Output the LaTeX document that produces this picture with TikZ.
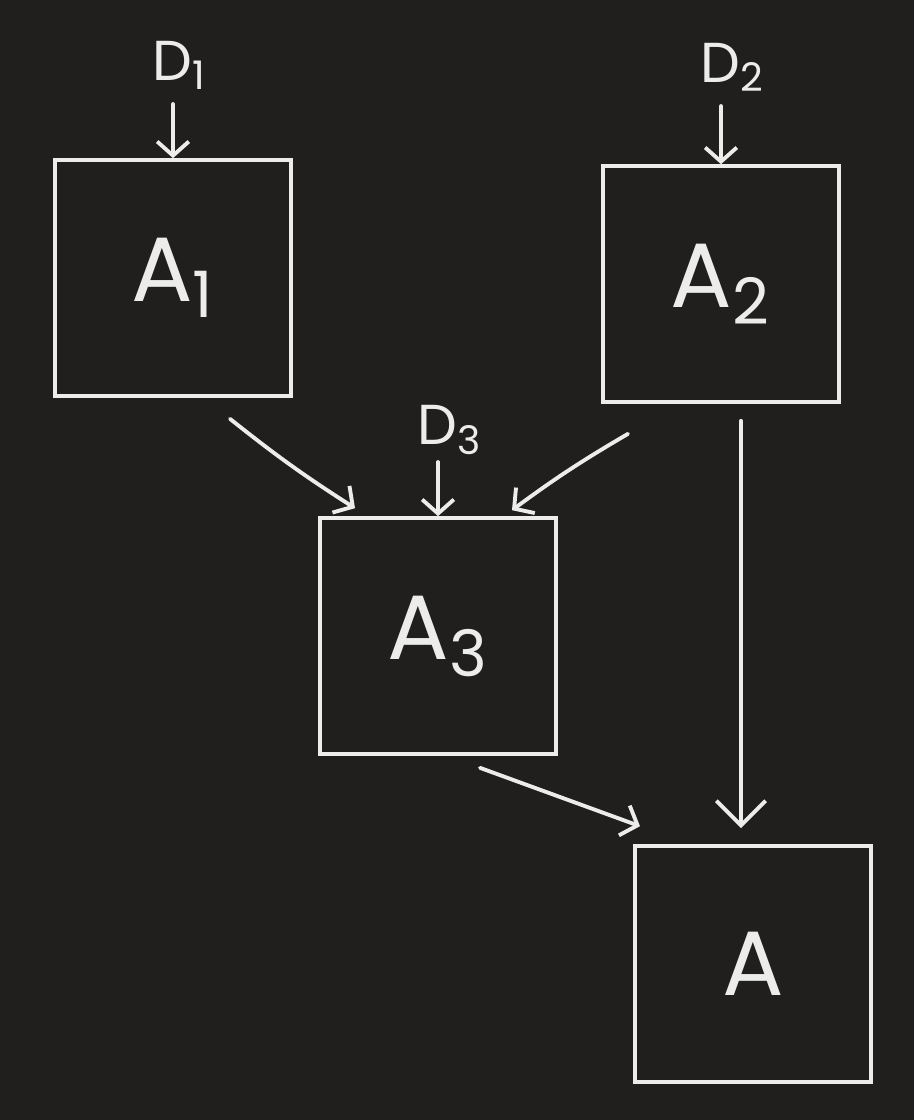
\documentclass[tikz,border=0pt]{standalone}
\usepackage{fontspec}
\setmainfont{Poppins}
\usetikzlibrary{arrows.meta,positioning}
\definecolor{BoardDark}{RGB}{32,31,30}
\definecolor{Chalk}{RGB}{236,236,234}

\tikzset{
  block/.style={draw=Chalk, line width=1pt, minimum size=2.36cm, inner sep=0pt,
    text=Chalk, font=\fontsize{26}{28}\selectfont},
  tag/.style={text=Chalk, inner sep=0pt, anchor=south, font=\fontsize{16}{18}\selectfont},
  flow/.style={draw=Chalk, line width=1.1pt, line cap=round,
    -{Straight Barb[length=4pt,width=9pt]}},
  bigflow/.style={flow, -{Straight Barb[length=7pt,width=14pt]}}
}

\begin{document}
\begin{tikzpicture}[x=0.01cm,y=-0.01cm]
  \fill[BoardDark] (0,0) rectangle (914,1120);

  % boxes
  \node[block] (a1) at (173,278) {A\textsubscript{1}};
  \node[block] (a2) at (721,284) {A\textsubscript{2}};
  \node[block] (a3) at (438,636) {A\textsubscript{3}};
  \node[block] (a)  at (753,964) {A};

  % inputs
  \node[tag] (d1) at (180,90) {D\textsubscript{1}};
  \node[tag] (d2) at (733,92) {D\textsubscript{2}};
  \node[tag] (d3) at (450,455) {D\textsubscript{3}};

  \draw[flow, shorten <=4pt] (a1.north |- d1.south) -- (a1.north);
  \draw[flow, shorten <=4pt] (a2.north |- d2.south) -- (a2.north);
  \draw[flow, shorten <=2pt] (a3.north |- d3.south) -- (a3.north);

  % links
  \draw[flow] ([shift={(57,21)}]a1.south) to[bend right=3] ([shift={(-83,-8)}]a3.north);
  \draw[flow] ([shift={(-93,30)}]a2.south) to[bend right=3] ([shift={(74,-6)}]a3.north);
  \draw[flow] ([shift={(42,12)}]a3.south) -- ([shift={(-113,-18)}]a.north);
  \draw[bigflow] ([shift={(20,17)}]a2.south) -- ([shift={(-12,-16)}]a.north);
\end{tikzpicture}
\end{document}
